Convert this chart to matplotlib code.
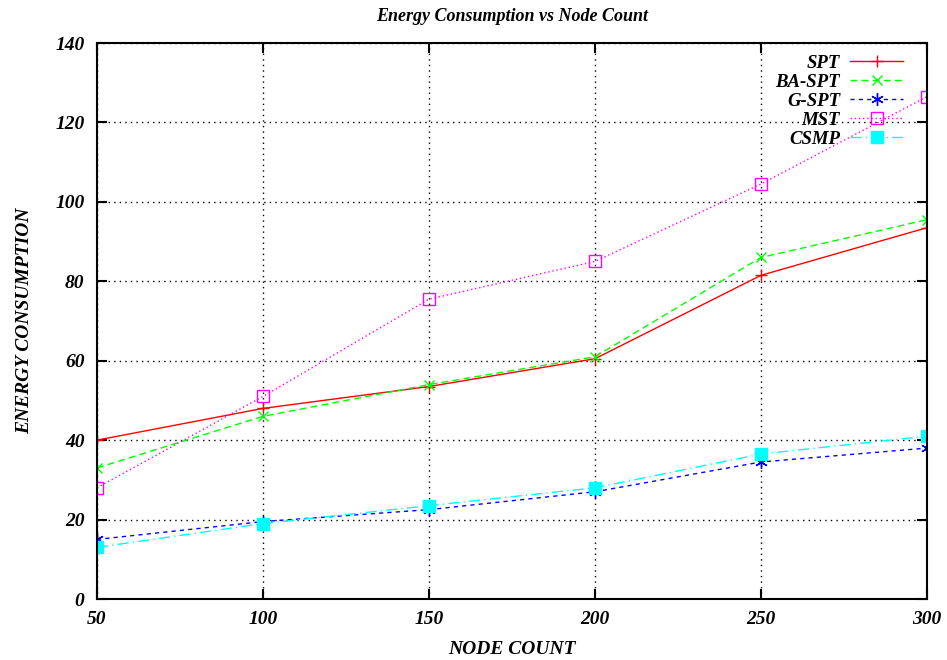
import matplotlib
matplotlib.use('Agg')
import matplotlib.pyplot as plt

# node counts and energy per algorithm
node_count = [50, 100, 150, 200, 250, 300]
spt = [40, 48, 53.5, 60.5, 81.5, 93.5]
ba_spt = [33, 46, 54, 61, 86, 95.5]
g_spt = [15, 19.5, 22.5, 27, 34.5, 38]
mst = [28, 51, 75.5, 85, 104.5, 126.5]
csmp = [13, 19, 23.5, 28, 36.5, 41]

plt.rcParams['font.family'] = 'Liberation Serif'

fig = plt.figure(figsize=(9.47, 6.6), dpi=100)
ax = fig.add_axes([97 / 947, 1 - 599 / 660, 830 / 947, 556 / 660])

ax.plot(node_count, spt, color='#ff0000', linestyle='-', marker='+', markersize=9, lw=1, label='SPT')
ax.plot(node_count, ba_spt, color='#00ff00', linestyle=(0, (5, 3)), marker='x', markersize=7, lw=1, label='BA-SPT')
ax.plot(node_count, g_spt, color='#0000ff', linestyle=(0, (3, 3)), marker=(6, 2, 0), markersize=9, lw=1, label='G-SPT')
ax.plot(node_count, mst, color='#ff00ff', linestyle=(0, (1, 2)), marker='s', markersize=8,
        markerfacecolor='none', lw=1, label='MST')
ax.plot(node_count, csmp, color='#00ffff', linestyle=(0, (8, 3, 1, 3)), marker='s', markersize=8, lw=1, label='CSMP')

ax.set_xlim(50, 300)
ax.set_ylim(0, 140)
ax.set_xticks(node_count)
ax.set_yticks(range(0, 141, 20))

font = dict(fontsize=14, fontweight='bold', fontstyle='italic')
ax.set_xticklabels([str(v) for v in node_count], **font)
ax.set_yticklabels([str(v) for v in range(0, 141, 20)], **font)
ax.tick_params(direction='in', length=7, width=1.5, top=True, right=True, pad=9)

ax.grid(True, color='black', linestyle=(0, (1, 3)), linewidth=1)
for s in ax.spines.values():
    s.set_linewidth(1.5)

ax.set_title('Energy Consumption vs Node Count', fontsize=13, fontweight='bold', fontstyle='italic', pad=16)
ax.set_xlabel('NODE COUNT', fontsize=14, fontweight='bold', fontstyle='italic', labelpad=9)
ax.set_ylabel('ENERGY CONSUMPTION', fontsize=14, fontweight='bold', fontstyle='italic', labelpad=16)

leg = ax.legend(loc='upper right', bbox_to_anchor=(0.971, 0.979), frameon=False, markerfirst=False,
                handlelength=2.8, handletextpad=0.55, labelspacing=0.1, borderaxespad=0, borderpad=0,
                prop=dict(family='Liberation Serif', size=13.5, weight='bold', style='italic'))

fig.savefig('out.png', dpi=100)
